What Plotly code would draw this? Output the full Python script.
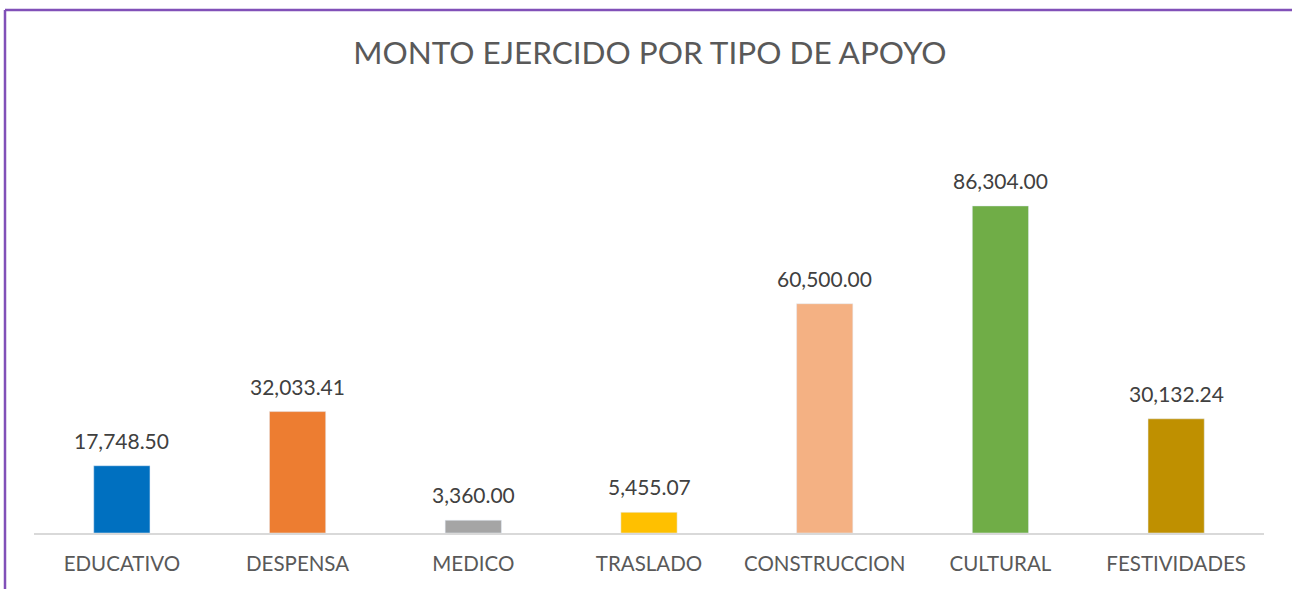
import plotly.graph_objects as go

categories = ["EDUCATIVO", "DESPENSA", "MEDICO", "TRASLADO", "CONSTRUCCION", "CULTURAL", "FESTIVIDADES"]
values = [17748.50, 32033.41, 3360.00, 5455.07, 60500.00, 86304.00, 30132.24]
colors = ["#0070C0", "#ED7D31", "#A5A5A5", "#FFC000", "#F4B183", "#70AD47", "#BF9000"]

W, H = 1292, 589
ml, mr, mt, mb = 34, 28, 154, 56
pw = W - ml - mr
ph = H - mt - mb

FONT = "Lato, Open Sans, sans-serif"

fig = go.Figure()
fig.add_trace(go.Bar(
    x=categories, y=values, marker_color=colors, width=0.32,
    hoverinfo="x+y", showlegend=False,
))

for c, v in zip(categories, values):
    fig.add_annotation(
        x=c, y=v, text=f"{v:,.2f}", showarrow=False,
        yanchor="bottom", yshift=11,
        font=dict(family=FONT, size=21, color="#404040"),
    )

# chart frame (left and top edges visible)
px2x = lambda p: (p - ml) / pw
py2y = lambda p: (H - mb - p) / ph
frame = dict(color="#8150B8", width=2.5)
fig.add_shape(type="line", xref="paper", yref="paper", x0=px2x(5), x1=px2x(5), y0=py2y(10), y1=py2y(600), line=frame)
fig.add_shape(type="line", xref="paper", yref="paper", x0=px2x(5), x1=px2x(1300), y0=py2y(10), y1=py2y(10), line=frame)

fig.update_layout(
    width=W, height=H,
    margin=dict(l=ml, r=mr, t=mt, b=mb),
    paper_bgcolor="white", plot_bgcolor="white",
    title=dict(text="MONTO EJERCIDO POR TIPO DE APOYO", x=0.503, xanchor="center",
               y=1 - 53 / H, yanchor="middle",
               font=dict(family=FONT, size=31.5, color="#595959")),
    xaxis=dict(showline=True, linecolor="#D9D9D9", linewidth=2, ticks="",
               tickfont=dict(family=FONT, size=20.5, color="#595959"),
               ticklabelstandoff=11, showgrid=False),
    yaxis=dict(range=[0, 100000], visible=False, showgrid=False, zeroline=False),
    bargap=0.68,
)

fig.write_html("out.html", config={"displayModeBar": False},
               post_script="document.body.style.margin='0';document.body.style.overflow='hidden';")
